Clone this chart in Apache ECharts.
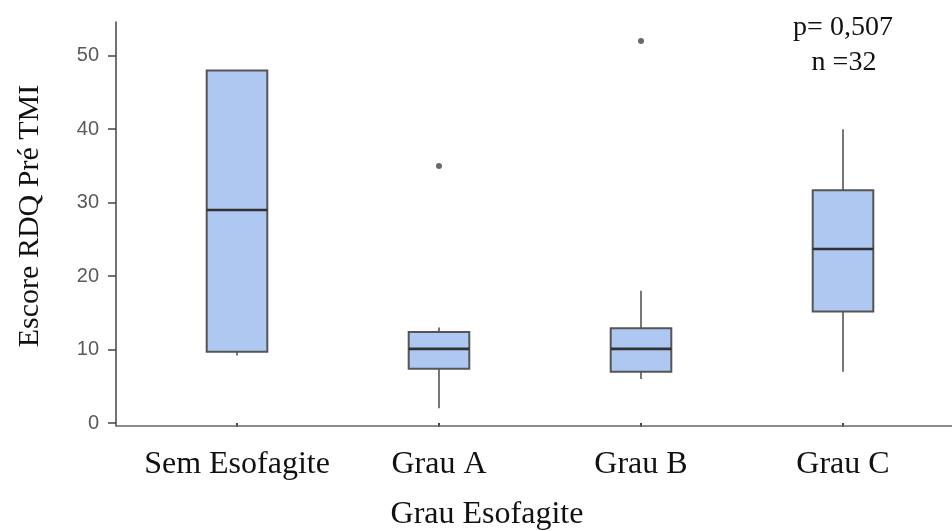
<!DOCTYPE html>
<html>
<head>
<meta charset="utf-8">
<script src="https://cdn.jsdelivr.net/npm/echarts@6/dist/echarts.min.js"></script>
<style>html,body{margin:0;padding:0;background:#fff}#c{width:952px;height:531px}</style>
</head>
<body>
<div id="c"></div>
<script>
var categories = ['Sem Esofagite', 'Grau A', 'Grau B', 'Grau C'];
// [min, Q1, median, Q3, max]
var boxMin    = [9.2, 2, 6, 7];
var boxQ1     = [9.7, 7.4, 7.0, 15.2];
var boxMedian = [29, 10.1, 10.1, 23.7];
var boxQ3     = [48, 12.4, 12.9, 31.7];
var boxMax    = [48, 13, 18, 40];
var outlierCat = [1, 2];
var outlierVal = [35, 52];
var yTicks = [0, 10, 20, 30, 40, 50];

var boxData = categories.map(function (c, i) {
  return [i, boxMin[i], boxQ1[i], boxMedian[i], boxQ3[i], boxMax[i]];
});
var outData = outlierCat.map(function (c, i) { return [c, outlierVal[i]]; });

var chart = echarts.init(document.getElementById('c'), null, {renderer: 'canvas'});
var serif = '"Liberation Serif", "Times New Roman", serif';

chart.setOption({
  animation: false,
  backgroundColor: '#ffffff',
  grid: {left: 136, right: 8, top: 22, bottom: 105, containLabel: false, outerBoundsMode: 'none'},
  xAxis: {
    type: 'category',
    data: categories,
    boundaryGap: true,
    axisLine: {show: false},
    axisTick: {show: true, alignWithLabel: true, length: 4, lineStyle: {color: '#444', width: 2}},
    axisLabel: {fontFamily: serif, fontSize: 32, color: '#111', margin: 23, interval: 0, hideOverlap: false},
    splitLine: {show: false}
  },
  yAxis: {
    type: 'value',
    min: -0.4,
    max: 54.6,
    offset: 20,
    axisLine: {show: true, lineStyle: {color: '#444', width: 1.5}},
    axisTick: {show: true, length: 8, customValues: yTicks, lineStyle: {color: '#444', width: 1.5}},
    axisLabel: {fontFamily: 'Arial, "Liberation Sans", sans-serif', fontSize: 20, color: '#5a5a5a', margin: 17, customValues: yTicks},
    splitLine: {show: false},
    name: 'Escore RDQ Pré TMI',
    nameLocation: 'middle',
    nameGap: 71,
    nameTextStyle: {fontFamily: serif, fontSize: 30, color: '#111', padding: [0, 0, 0, 16]}
  },
  graphic: [
    {type: 'line', shape: {x1: 116, y1: 426, x2: 952, y2: 426}, style: {stroke: '#666', lineWidth: 1.5}, z: 10},
    {type: 'text', x: 843, y: 14, style: {text: 'p= 0,507', font: '28px ' + serif, fill: '#111', textAlign: 'center'}},
    {type: 'text', x: 844, y: 49, style: {text: 'n =32', font: '28px ' + serif, fill: '#111', textAlign: 'center'}},
    {type: 'text', x: 487, y: 499, style: {text: 'Grau Esofagite', font: '32px ' + serif, fill: '#111', textAlign: 'center'}}
  ],
  series: [
    {
      type: 'custom',
      data: boxData,
      encode: {x: 0, y: [1, 2, 3, 4, 5]},
      renderItem: function (params, api) {
        var idx = api.value(0);
        var pMin = api.coord([idx, api.value(1)]);
        var pQ1 = api.coord([idx, api.value(2)]);
        var pMed = api.coord([idx, api.value(3)]);
        var pQ3 = api.coord([idx, api.value(4)]);
        var pMax = api.coord([idx, api.value(5)]);
        var band = api.size([1, 0])[0];
        var w = band * 0.3;
        var x = pQ1[0];
        var lineStyle = {stroke: '#555', lineWidth: 1.6};
        return {
          type: 'group',
          children: [
            {type: 'line', shape: {x1: x, y1: pQ3[1], x2: x, y2: pMax[1]}, style: lineStyle},
            {type: 'line', shape: {x1: x, y1: pQ1[1], x2: x, y2: pMin[1]}, style: lineStyle},
            {type: 'rect', shape: {x: x - w / 2, y: pQ3[1], width: w, height: pQ1[1] - pQ3[1]},
              style: {fill: '#aec8f1', stroke: '#555', lineWidth: 2}},
            {type: 'line', shape: {x1: x - w / 2, y1: pMed[1], x2: x + w / 2, y2: pMed[1]},
              style: {stroke: '#333', lineWidth: 2.6}}
          ]
        };
      }
    },
    {
      type: 'scatter',
      data: outData,
      symbol: 'circle',
      symbolSize: 6,
      itemStyle: {color: '#444'}
    }
  ]
});
</script>
</body>
</html>
